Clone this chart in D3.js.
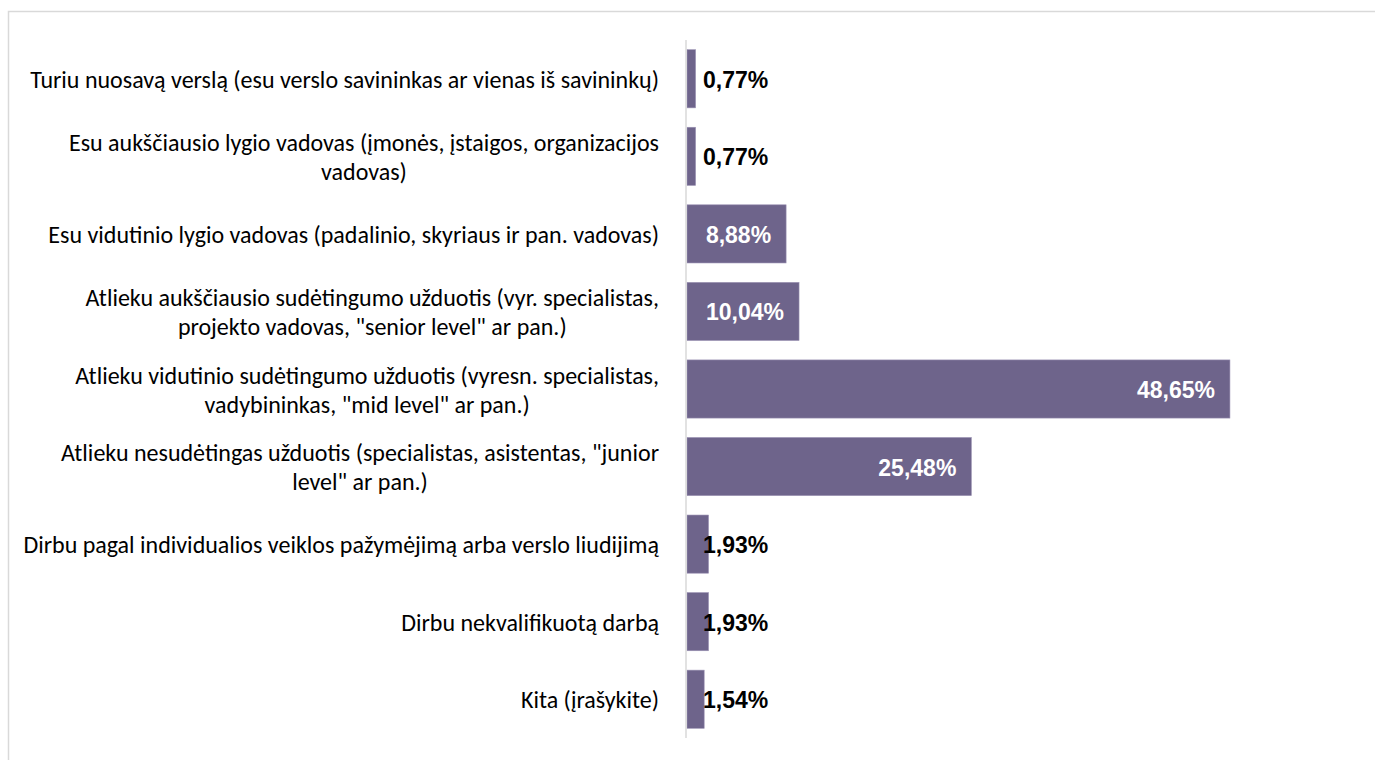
<!DOCTYPE html>
<html>
<head>
<meta charset="utf-8">
<script src="https://cdn.jsdelivr.net/npm/d3@7"></script>
<style>
  html, body { margin: 0; padding: 0; background: #fff; }
  svg { display: block; }
</style>
</head>
<body>
<div id="chart"></div>
<script>
// categories top to bottom, "\n" marks the line break used in the original
const categories = [
    "Turiu nuosavą verslą (esu verslo savininkas ar vienas iš savininkų)",
    "Esu aukščiausio lygio vadovas (įmonės, įstaigos, organizacijos\nvadovas)",
    "Esu vidutinio lygio vadovas (padalinio, skyriaus ir pan. vadovas)",
    "Atlieku aukščiausio sudėtingumo užduotis (vyr. specialistas,\nprojekto vadovas, \"senior level\" ar pan.)",
    "Atlieku vidutinio sudėtingumo užduotis (vyresn. specialistas,\nvadybininkas, \"mid level\" ar pan.)",
    "Atlieku nesudėtingas užduotis (specialistas, asistentas, \"junior\nlevel\" ar pan.)",
    "Dirbu pagal individualios veiklos pažymėjimą arba verslo liudijimą",
    "Dirbu nekvalifikuotą darbą",
    "Kita (įrašykite)"
];
const values = [0.77, 0.77, 8.88, 10.04, 48.65, 25.48, 1.93, 1.93, 1.54];

const W = 1375, H = 760;
const barColor = "#6e648b";

const lt = d3.formatLocale({ decimal: ",", thousands: " ", grouping: [3], currency: ["", ""] });
const fmt = v => lt.format(".2f")(v) + "%";

const svg = d3.select("#chart").append("svg")
    .attr("width", W)
    .attr("height", H);

// outer frame (only the top and left edges are inside the window)
svg.append("rect")
    .attr("x", 8.5).attr("y", 11.5)
    .attr("width", W + 10).attr("height", H + 10)
    .attr("fill", "none")
    .attr("stroke", "#d9d9d9")
    .attr("stroke-width", 1.5);

const y = d3.scaleBand()
    .domain(categories)
    .range([40, 738])
    .paddingInner(0.25)
    .paddingOuter(0.125);

const x = d3.scaleLinear()
    .domain([0, 50])
    .range([687, 1245]);

// bars
svg.append("g")
    .selectAll("rect")
    .data(values)
    .join("rect")
    .attr("x", x(0))
    .attr("y", (d, i) => y(categories[i]))
    .attr("width", d => x(d) - x(0))
    .attr("height", y.bandwidth())
    .attr("fill", barColor)
    .attr("stroke", "#9c93b4")
    .attr("stroke-width", 0.6);

// vertical axis line
svg.append("line")
    .attr("x1", 686).attr("x2", 686)
    .attr("y1", 40).attr("y2", 738)
    .attr("stroke", "#d9d9d9")
    .attr("stroke-width", 1.5);

// category labels
const labelFont = "Carlito, Calibri, Lato, 'Open Sans', sans-serif";
const labelRight = 659;
const lineH = 29;
const labels = svg.append("g")
    .attr("font-family", labelFont)
    .attr("font-size", 24)
    .attr("fill", "#000");

categories.forEach((c, i) => {
    const lines = c.split("\n");
    const cy = y(c) + y.bandwidth() / 2;
    const t = labels.append("text")
        .attr("text-anchor", "middle")
        .attr("dominant-baseline", "central");
    lines.forEach((ln, j) => {
        t.append("tspan")
            .attr("y", cy + (j - (lines.length - 1) / 2) * lineH)
            .text(ln);
    });
    let wmax = 0;
    t.selectAll("tspan").each(function () {
        wmax = Math.max(wmax, this.getComputedTextLength());
    });
    t.selectAll("tspan").attr("x", labelRight - wmax / 2);
});

// value labels
svg.append("g")
    .attr("font-family", "'Liberation Sans', Arial, sans-serif")
    .attr("font-weight", "bold")
    .attr("font-size", 23)
    .selectAll("text")
    .data(values)
    .join("text")
    .attr("dominant-baseline", "central")
    .attr("y", (d, i) => y(categories[i]) + y.bandwidth() / 2 + 1)
    .attr("x", d => d > 5 ? x(d) - 15 : x(0) + 16)
    .attr("text-anchor", d => d > 5 ? "end" : "start")
    .attr("fill", d => d > 5 ? "#fff" : "#000")
    .text(d => fmt(d));
</script>
</body>
</html>
